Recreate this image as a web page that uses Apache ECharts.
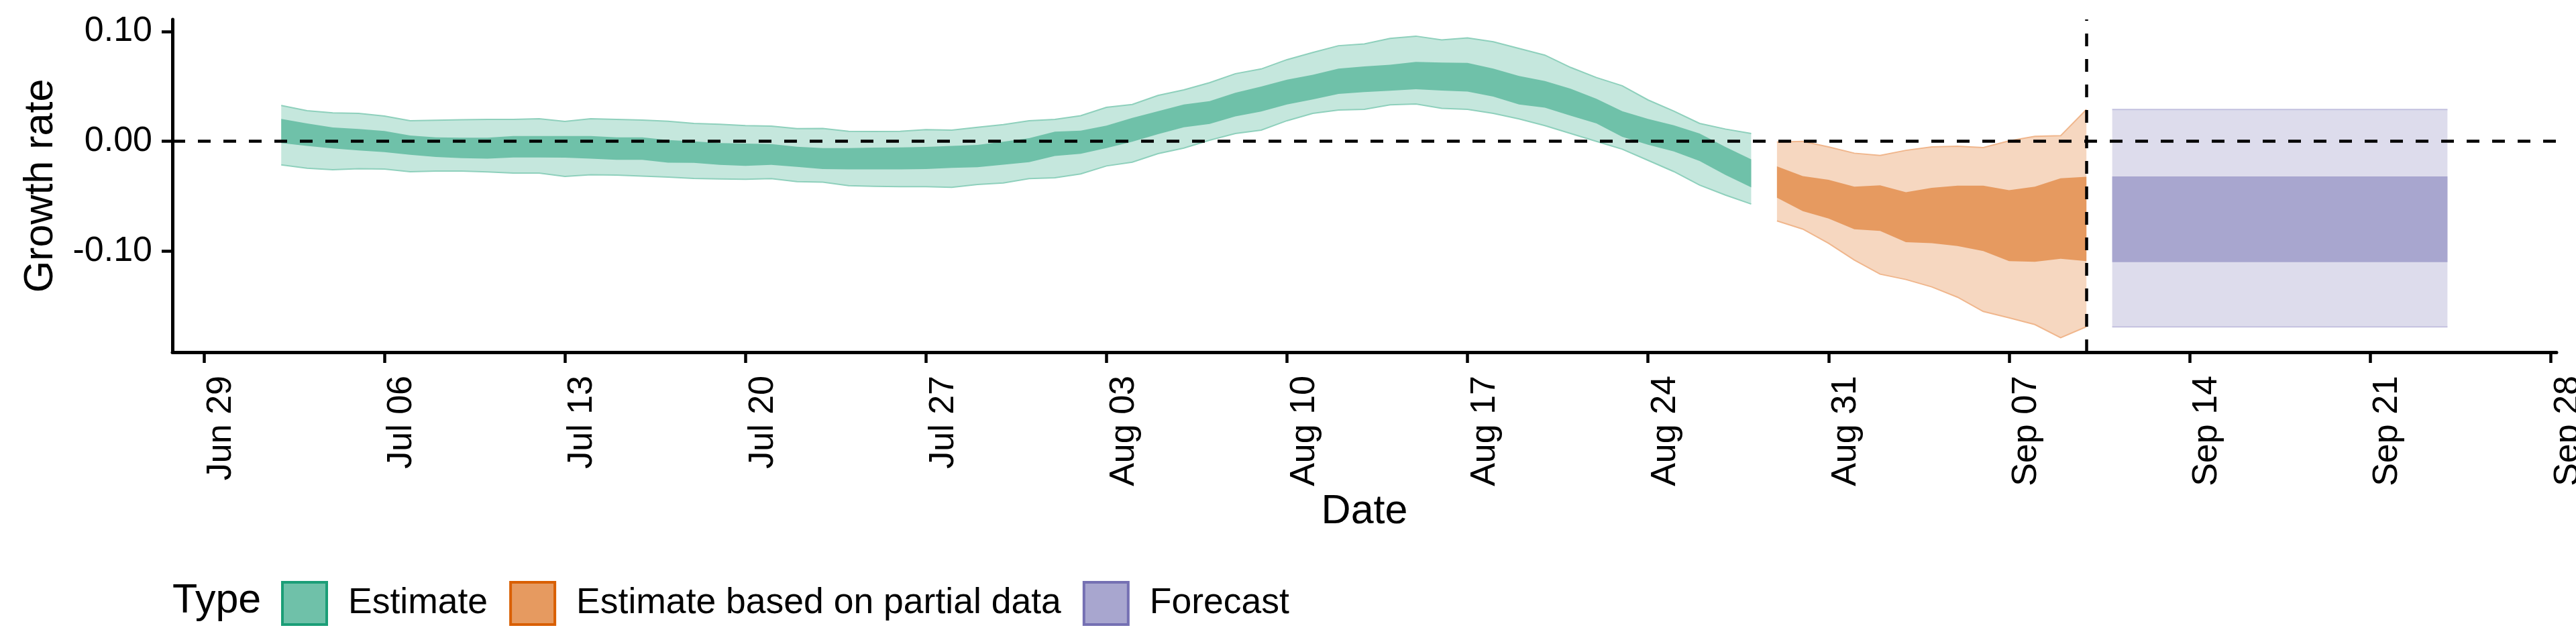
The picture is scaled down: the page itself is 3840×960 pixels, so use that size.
<!DOCTYPE html>
<html lang="en">
<head>
    <meta charset="UTF-8">
    <title>Growth rate</title>
    <script src="https://cdn.jsdelivr.net/npm/echarts@6/dist/echarts.min.js"></script>
    <style>html, body { margin: 0; padding: 0; background: #fff; }</style>
</head>
<body>

<div id="main" style="width: 3840px; height: 960px;"></div>

<script type="text/javascript">
    // ---- data ----
    var tickDates = ['2020-06-29', '2020-07-06', '2020-07-13', '2020-07-20', '2020-07-27', '2020-08-03', '2020-08-10',
        '2020-08-17', '2020-08-24', '2020-08-31', '2020-09-07', '2020-09-14', '2020-09-21', '2020-09-28'];
    var tickLabels = ['Jun 29', 'Jul 06', 'Jul 13', 'Jul 20', 'Jul 27', 'Aug 03', 'Aug 10',
        'Aug 17', 'Aug 24', 'Aug 31', 'Sep 07', 'Sep 14', 'Sep 21', 'Sep 28'];
    var yTicks = [-0.1, 0, 0.1];
    var nowDate = '2020-09-10';

    var typeNames = ['Estimate', 'Estimate based on partial data', 'Forecast'];

    var estimateDates = [
        '2020-07-02', '2020-07-03', '2020-07-04', '2020-07-05', '2020-07-06', '2020-07-07', '2020-07-08', '2020-07-09',
        '2020-07-10', '2020-07-11', '2020-07-12', '2020-07-13', '2020-07-14', '2020-07-15', '2020-07-16', '2020-07-17',
        '2020-07-18', '2020-07-19', '2020-07-20', '2020-07-21', '2020-07-22', '2020-07-23', '2020-07-24', '2020-07-25',
        '2020-07-26', '2020-07-27', '2020-07-28', '2020-07-29', '2020-07-30', '2020-07-31', '2020-08-01', '2020-08-02',
        '2020-08-03', '2020-08-04', '2020-08-05', '2020-08-06', '2020-08-07', '2020-08-08', '2020-08-09', '2020-08-10',
        '2020-08-11', '2020-08-12', '2020-08-13', '2020-08-14', '2020-08-15', '2020-08-16', '2020-08-17', '2020-08-18',
        '2020-08-19', '2020-08-20', '2020-08-21', '2020-08-22', '2020-08-23', '2020-08-24', '2020-08-25', '2020-08-26',
        '2020-08-27', '2020-08-28'];
    var estimateUpper90 = [
        0.0326, 0.0279, 0.0259, 0.0255, 0.0230, 0.0187, 0.0192, 0.0196, 0.0200, 0.0200, 0.0206, 0.0181, 0.0206, 0.0200,
        0.0194, 0.0183, 0.0163, 0.0155, 0.0143, 0.0139, 0.0116, 0.0118, 0.0092, 0.0090, 0.0092, 0.0106, 0.0102, 0.0128,
        0.0153, 0.0188, 0.0200, 0.0234, 0.0310, 0.0336, 0.0418, 0.0469, 0.0534, 0.0616, 0.0659, 0.0744, 0.0809, 0.0871,
        0.0887, 0.0938, 0.0958, 0.0924, 0.0942, 0.0907, 0.0846, 0.0785, 0.0673, 0.0581, 0.0506, 0.0377, 0.0275, 0.0163,
        0.0112, 0.0071];
    var estimateUpper50 = [
        0.0204, 0.0163, 0.0126, 0.0112, 0.0094, 0.0053, 0.0037, 0.0033, 0.0033, 0.0049, 0.0049, 0.0049, 0.0049, 0.0037,
        0.0037, 0.0012, 0.0000, -0.0016, -0.0020, -0.0024, -0.0049, -0.0061, -0.0061, -0.0057, -0.0055, -0.0051, -0.0041, -0.0033,
        -0.0004, 0.0029, 0.0088, 0.0098, 0.0143, 0.0214, 0.0275, 0.0336, 0.0367, 0.0442, 0.0499, 0.0561, 0.0606, 0.0663,
        0.0683, 0.0697, 0.0724, 0.0718, 0.0714, 0.0663, 0.0595, 0.0550, 0.0479, 0.0387, 0.0275, 0.0204, 0.0147, 0.0071,
        -0.0051, -0.0163];
    var estimateLower50 = [
        -0.0016, -0.0041, -0.0065, -0.0082, -0.0098, -0.0122, -0.0143, -0.0153, -0.0157, -0.0147, -0.0147, -0.0149, -0.0157, -0.0169,
        -0.0169, -0.0194, -0.0196, -0.0214, -0.0224, -0.0214, -0.0232, -0.0253, -0.0255, -0.0255, -0.0255, -0.0253, -0.0241, -0.0236,
        -0.0212, -0.0190, -0.0133, -0.0114, -0.0061, -0.0004, 0.0065, 0.0128, 0.0159, 0.0228, 0.0271, 0.0336, 0.0381, 0.0432,
        0.0449, 0.0461, 0.0475, 0.0463, 0.0453, 0.0408, 0.0336, 0.0306, 0.0234, 0.0163, 0.0041, -0.0031, -0.0092, -0.0179,
        -0.0306, -0.0418];
    var estimateLower90 = [
        -0.0214, -0.0245, -0.0259, -0.0249, -0.0253, -0.0277, -0.0271, -0.0271, -0.0279, -0.0289, -0.0289, -0.0320, -0.0304, -0.0308,
        -0.0316, -0.0326, -0.0338, -0.0343, -0.0345, -0.0340, -0.0367, -0.0371, -0.0404, -0.0410, -0.0412, -0.0412, -0.0418, -0.0393,
        -0.0379, -0.0340, -0.0332, -0.0296, -0.0224, -0.0190, -0.0112, -0.0061, 0.0010, 0.0071, 0.0102, 0.0188, 0.0255, 0.0285,
        0.0292, 0.0332, 0.0340, 0.0300, 0.0292, 0.0255, 0.0204, 0.0143, 0.0071, 0.0000, -0.0071, -0.0173, -0.0275, -0.0398,
        -0.0489, -0.0571];

    var partialDates = ['2020-08-29', '2020-08-30', '2020-08-31', '2020-09-01', '2020-09-02', '2020-09-03', '2020-09-04',
        '2020-09-05', '2020-09-06', '2020-09-07', '2020-09-08', '2020-09-09', '2020-09-10'];
    var partialUpper90 = [-0.0006, 0.0000, -0.0051, -0.0108, -0.0128, -0.0082, -0.0051, -0.0045, -0.0057, 0.0004, 0.0045, 0.0051, 0.0290];
    var partialUpper50 = [-0.0228, -0.0316, -0.0350, -0.0412, -0.0400, -0.0463, -0.0424, -0.0404, -0.0404, -0.0444, -0.0412, -0.0336, -0.0322];
    var partialLower50 = [-0.0514, -0.0636, -0.0703, -0.0801, -0.0816, -0.0918, -0.0928, -0.0954, -0.0999, -0.1091, -0.1097, -0.1070, -0.1091];
    var partialLower90 = [-0.0724, -0.0799, -0.0928, -0.1081, -0.1209, -0.1258, -0.1325, -0.1419, -0.1549, -0.1607, -0.1668, -0.1788, -0.1688];

    var forecastDates = ['2020-09-11', '2020-09-24'];
    var forecastUpper90 = [0.029, 0.029];
    var forecastUpper50 = [-0.032, -0.032];
    var forecastLower50 = [-0.110, -0.110];
    var forecastLower90 = [-0.169, -0.169];

    // ---- helpers ----
    var FONT = 'Liberation Sans';
    var DAY = 86400000;

    function ts(d) {
        var p = d.split('-');
        return Date.UTC(+p[0], +p[1] - 1, +p[2]);
    }

    var tickValues = tickDates.map(ts);

    var palette = {
        'Estimate': {dark: '#6FC1A9', light: '#C5E7DD', edge: '#8ED0BC', border: '#1B9E77'},
        'Estimate based on partial data': {dark: '#E69A60', light: '#F6D7C0', edge: '#F0B68C', border: '#D95F02'},
        'Forecast': {dark: '#A8A6CF', light: '#DDDCEC', edge: '#C3C1DF', border: '#7570B3'}
    };

    // 90% and 50% ribbons of one type, drawn as polygons through the axes
    function ribbonSeries(key, dates, lo90, lo50, hi50, hi90) {
        var c = palette[key];
        return {
            type: 'custom',
            name: key,
            coordinateSystem: 'cartesian2d',
            silent: true,
            clip: true,
            z: 2,
            itemStyle: {color: c.dark},
            data: dates.map(function (d, i) { return [ts(d), lo90[i], lo50[i], hi50[i], hi90[i]]; }),
            encode: {x: 0, y: [1, 2, 3, 4]},
            renderItem: function (params, api) {
                if (params.dataIndex !== 0) return null;
                function path(arr) {
                    return dates.map(function (d, i) { return api.coord([ts(d), arr[i]]); });
                }
                var u90 = path(hi90), u50 = path(hi50), l50 = path(lo50), l90 = path(lo90);
                function band(top, bottom, fill) {
                    return {
                        type: 'polygon',
                        shape: {points: top.concat(bottom.slice().reverse())},
                        style: {fill: fill}
                    };
                }
                function edge(pts) {
                    return {type: 'polyline', shape: {points: pts}, style: {stroke: c.edge, lineWidth: 2, fill: null}};
                }
                return {
                    type: 'group',
                    children: [band(u90, l90, c.light), band(u50, l50, c.dark), edge(u90), edge(l90)]
                };
            }
        };
    }

    var series = [
        ribbonSeries('Estimate', estimateDates, estimateLower90, estimateLower50, estimateUpper50, estimateUpper90),
        ribbonSeries('Estimate based on partial data', partialDates, partialLower90, partialLower50, partialUpper50, partialUpper90),
        ribbonSeries('Forecast', forecastDates, forecastLower90, forecastLower50, forecastUpper50, forecastUpper90)
    ];

    series.push({
        type: 'line', name: 'ref', data: [], silent: true, z: 10,
        markLine: {
            silent: true, animation: false, symbol: ['none', 'none'], label: {show: false},
            lineStyle: {color: '#000', width: 4.5, type: [19, 19]},
            emphasis: {disabled: true},
            data: [{yAxis: 0}, {xAxis: ts(nowDate)}]
        }
    });

    var myChart = echarts.init(document.getElementById('main'));

    var option = {
        animation: false,
        backgroundColor: '#fff',
        grid: {left: 257, right: 29, top: 29, bottom: 435, containLabel: false, outerBoundsMode: 'none'},
        xAxis: {
            type: 'value',
            min: ts('2020-06-29') - 1.22 * DAY,
            max: ts('2020-09-28') + 0.23 * DAY,
            name: 'Date',
            nameLocation: 'middle',
            nameGap: 205,
            nameTextStyle: {fontFamily: FONT, fontSize: 61, color: '#000'},
            axisLine: {onZero: false, lineStyle: {color: '#000', width: 5}},
            axisTick: {show: true, length: 16, lineStyle: {color: '#000', width: 4.5}, customValues: tickValues},
            axisLabel: {
                customValues: tickValues,
                rotate: 90,
                margin: 35,
                verticalAlign: 'top',
                fontFamily: FONT, fontSize: 52, color: '#000',
                formatter: function (v) {
                    var i = tickValues.indexOf(v);
                    return i >= 0 ? tickLabels[i] : '';
                }
            },
            splitLine: {show: false}
        },
        yAxis: {
            type: 'value',
            min: -0.192,
            max: 0.111,
            name: 'Growth rate',
            nameLocation: 'middle',
            nameGap: 165,
            nameTextStyle: {fontFamily: FONT, fontSize: 61, color: '#000'},
            axisLine: {show: true, lineStyle: {color: '#000', width: 5}},
            axisTick: {show: true, length: 16, lineStyle: {color: '#000', width: 4.5}, customValues: yTicks},
            axisLabel: {
                customValues: yTicks,
                margin: 30,
                fontFamily: FONT, fontSize: 52, color: '#000',
                formatter: function (v) { return v.toFixed(2); }
            },
            splitLine: {show: false}
        },
        legend: {
            left: 414,
            top: 861,
            itemWidth: 66,
            itemHeight: 63,
            itemGap: 32,
            selectedMode: false,
            textStyle: {fontFamily: FONT, fontSize: 53.5, color: '#000', padding: [0, 0, 0, 27]},
            data: typeNames.map(function (n) {
                return {
                    name: n, icon: 'rect',
                    itemStyle: {color: palette[n].dark, borderColor: palette[n].border, borderWidth: 4}
                };
            })
        },
        graphic: [{
            type: 'text', left: 257, top: 866,
            style: {text: 'Type', fontFamily: FONT, fontSize: 61, fill: '#000'}
        }],
        series: series
    };

    myChart.setOption(option);
</script>
</body>
</html>
